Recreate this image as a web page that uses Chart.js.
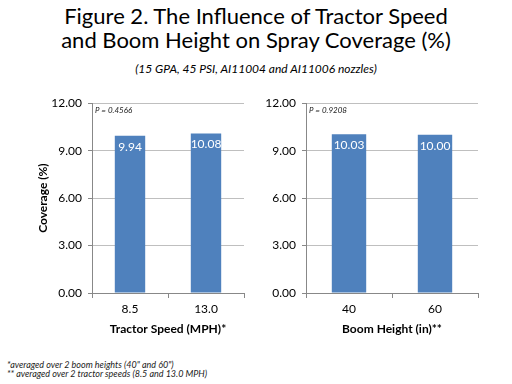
<!DOCTYPE html>
<html>
<head>
<meta charset="utf-8">
<script src="https://cdn.jsdelivr.net/npm/chart.js@4/dist/chart.umd.min.js"></script>
<style>
  body { margin:0; width:512px; height:384px; background:#fff; position:relative; overflow:hidden; font-family:Lato, "Open Sans", sans-serif; }
  .t { position:absolute; left:0; width:512px; text-align:center; color:#000; }
  #t1 { top:4px; font-size:22px; line-height:24px; }
  #sub { top:61px; font-size:12px; font-style:italic; }
  .box { position:absolute; top:90px; width:256px; height:250px; }
  #foot { position:absolute; left:7px; top:360px; font-size:9px; font-style:italic; line-height:9px; color:#222; }
</style>
</head>
<body>
<div class="t" id="t1">Figure 2. The Influence of Tractor Speed<br>and Boom Height on Spray Coverage (%)</div>
<div class="t" id="sub">(15 GPA, 45 PSI, AI11004 and AI11006 nozzles)</div>
<div class="box" style="left:0"><canvas id="c1"></canvas></div>
<div class="box" style="left:256px"><canvas id="c2"></canvas></div>
<div id="foot">*averaged over 2 boom heights (40" and 60")<br>** averaged over 2 tractor speeds (8.5 and 13.0 MPH)</div>
<script>
// values
const speedLabels = ['8.5', '13.0'];
const speedCoverage = [9.94, 10.08];
const heightLabels = ['40', '60'];
const heightCoverage = [10.03, 10.00];
const yTicks = [0, 3, 6, 9, 12];
const pSpeed = 'P = 0.4566';
const pHeight = 'P = 0.9208';

const FONT = 'Lato, "Open Sans", sans-serif';
const BAR = '#4f81bd';

// white value labels inside the top of each bar + P value at top left
const barText = {
  id: 'barText',
  afterDatasetsDraw(chart, args, opts) {
    const ctx = chart.ctx;
    const meta = chart.getDatasetMeta(0);
    ctx.save();
    ctx.fillStyle = '#fff';
    ctx.font = '12px ' + FONT;
    ctx.textAlign = 'center';
    ctx.textBaseline = 'top';
    meta.data.forEach((bar, i) => {
      ctx.fillText(chart.data.datasets[0].data[i].toFixed(2), bar.x, bar.y + 5);
    });
    ctx.fillStyle = '#222';
    ctx.font = 'italic 8px ' + FONT;
    ctx.textAlign = 'left';
    ctx.fillText(opts.p, chart.chartArea.left + 3, chart.chartArea.top + 3);
    ctx.restore();
  }
};

function makeChart(id, labels, values, xTitle, yTitle, pText, pad, yWidth) {
  return new Chart(document.getElementById(id), {
    type: 'bar',
    data: {
      labels: labels,
      datasets: [{ data: values, backgroundColor: BAR, barPercentage: 0.8, categoryPercentage: 0.5 }]
    },
    options: {
      responsive: true,
      maintainAspectRatio: false,
      animation: false,
      layout: { padding: pad },
      plugins: { legend: { display: false }, tooltip: { enabled: false }, barText: { p: pText } },
      scales: {
        x: {
          grid: { offset: true, drawOnChartArea: false, color: '#888', tickLength: 5 },
          border: { color: '#888' },
          ticks: { color: '#000', font: { family: FONT, size: 12 }, padding: 4 },
          title: { display: true, text: xTitle, color: '#000', font: { family: FONT, size: 12, weight: 'bold' }, padding: { top: 4 } },
          afterFit: s => { s.height = 47; }
        },
        y: {
          min: 0, max: 12,
          afterBuildTicks: s => { s.ticks = yTicks.map(v => ({ value: v })); },
          grid: { color: '#bfbfbf', drawTicks: true, tickLength: 4, tickColor: '#888' },
          border: { color: '#888' },
          ticks: { color: '#000', font: { family: FONT, size: 12 }, padding: 6, callback: v => v.toFixed(2) },
          title: { display: !!yTitle, text: yTitle, color: '#000', font: { family: FONT, size: 12, weight: 'bold' }, padding: 0 },
          afterFit: s => { s.width = yWidth; }
        }
      }
    },
    plugins: [barText]
  });
}

makeChart('c1', speedLabels, speedCoverage, 'Tractor Speed (MPH)*', 'Coverage (%)', pSpeed,
  { left: 36, right: 12, top: 11, bottom: 0 }, 56);
makeChart('c2', heightLabels, heightCoverage, 'Boom Height (in)**', '', pHeight,
  { left: 0, right: 34, top: 11, bottom: 0 }, 50);
</script>
</body>
</html>
